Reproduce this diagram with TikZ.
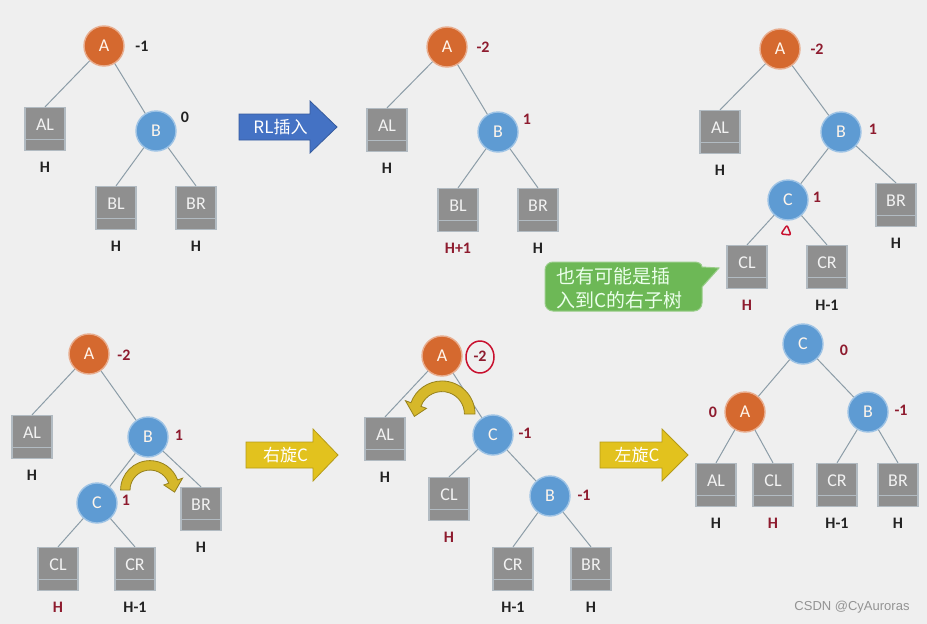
\documentclass[tikz,border=0pt]{standalone}
\usepackage{fontspec}
\setmainfont{Carlito}
\newfontfamily\cjk{Noto Sans CJK SC}
\newfontfamily\wmfont{Liberation Sans}

\definecolor{bgcol}{HTML}{EFEFEF}
\definecolor{nodeorange}{HTML}{D5692F}
\definecolor{nodeblue}{HTML}{5E9BD3}
\definecolor{leafgray}{HTML}{8F8F8F}
\definecolor{leafedge}{HTML}{B2BBC2}
\definecolor{branchgray}{HTML}{8C9DA8}
\definecolor{inkblack}{HTML}{222222}
\definecolor{inkred}{HTML}{8E1B2E}
\definecolor{arrowblue}{HTML}{4472C4}
\definecolor{arrowyellow}{HTML}{E2C21E}
\definecolor{turnyellow}{HTML}{D6B82A}
\definecolor{calloutgreen}{HTML}{6DB856}
\definecolor{penred}{HTML}{C8102E}

\tikzset{
  treecirc/.style={circle, minimum size=40pt, inner sep=0pt, line width=1.4pt,
    text=white!92!orange, font=\fontsize{18}{18}\selectfont},
  anode/.style={treecirc, fill=nodeorange, draw=nodeorange!55!white},
  bnode/.style={treecirc, fill=nodeblue, draw=nodeblue!60!white},
  leaf/.style={rectangle, minimum width=40pt, minimum height=43pt, inner sep=0pt,
    fill=leafgray, draw=leafedge, line width=1.2pt, text=white!90!gray,
    font=\fontsize{18}{18}\selectfont,
    path picture={\draw[leafedge, line width=1pt]
      ([yshift=11pt]path picture bounding box.south west) --
      ([yshift=11pt]path picture bounding box.south east);}},
  hlab/.style={font=\bfseries\fontsize{16}{16}\selectfont},
  factor/.style={font=\bfseries\fontsize{16}{16}\selectfont},
  branch/.style={draw=branchgray, line width=1pt},
  arrowtext/.style={text=white, font=\cjk\fontsize{17}{17}\selectfont},
  turnfill/.style={fill=turnyellow, draw=turnyellow!70!black, line width=0.8pt},
  penmark/.style={draw=penred, line width=1.5pt, line cap=round, line join=round},
}

% (name, x, y, letter, style)
\newcommand{\treenode}[5]{
    \node[#5] (#1) at (#2,#3) {#4};
}
% (name, x, y, text, height, height colour)
\newcommand{\leafbox}[6]{
    \node[leaf] (#1) at (#2,#3) {\raisebox{8pt}{#4}};
    \node[hlab, text=#6] (#1h) at (#2,#3+38) {#5};
}
% (name, x, y, value, colour)
\newcommand{\bfac}[5]{
    \node[factor, text=#5] (#1) at (#2,#3) {#4};
}
% (name, x_start, x_head, x_tip, y_mid, colour, text)
\newcommand{\fatarrow}[7]{
    \filldraw[fill=#6, draw=#6!80!black, line width=0.8pt]
      (#2,#5-13) -- (#3,#5-13) -- (#3,#5-26) -- (#4,#5)
      -- (#3,#5+26) -- (#3,#5+13) -- (#2,#5+13) -- cycle;
    \node[arrowtext] (#1) at ({(#2+#3)/2+6},#5) {#7};
}
% (x_centre, y_centre, xscale, yscale)
\newcommand{\turnarrow}[4]{
    \begin{scope}[shift={(#1,#2)}, xscale=#3, yscale=#4]
      \filldraw[turnfill] (180:28) arc (180:340:28) -- (340:33) -- (5:23.5)
        -- (340:14) -- (340:19) arc (340:180:19) -- cycle;
    \end{scope}
}

\begin{document}
\begin{tikzpicture}[x=1pt, y=-1pt]

  \useasboundingbox (0,0) rectangle (927,624);
  \fill[bgcol] (0,0) rectangle (927,624);

  % top left
  \treenode{a1}{104}{46}{A}{anode}
  \bfac{a1f}{142}{46}{-1}{inkblack}
  \leafbox{al1}{45}{129}{AL}{H}{inkblack}
  \treenode{b1}{156}{131}{B}{bnode}
  \bfac{b1f}{185}{117}{0}{inkblack}
  \leafbox{bl1}{116}{208}{BL}{H}{inkblack}
  \leafbox{br1}{196}{208}{BR}{H}{inkblack}
  \draw[branch] (a1) -- (al1.north);
  \draw[branch] (a1) -- (b1);
  \draw[branch] (b1) -- (bl1.north);
  \draw[branch] (b1) -- (br1.north);

  \fatarrow{rlins}{239}{310}{337}{127}{arrowblue}{RL插入}

  % top middle
  \treenode{a2}{447}{47}{A}{anode}
  \bfac{a2f}{483}{47}{-2}{inkred}
  \leafbox{al2}{387}{130}{AL}{H}{inkblack}
  \treenode{b2}{498}{132}{B}{bnode}
  \bfac{b2f}{527}{119}{1}{inkred}
  \leafbox{bl2}{458}{210}{BL}{H+1}{inkred}
  \leafbox{br2}{538}{210}{BR}{H}{inkblack}
  \draw[branch] (a2) -- (al2.north);
  \draw[branch] (a2) -- (b2);
  \draw[branch] (b2) -- (bl2.north);
  \draw[branch] (b2) -- (br2.north);

  % top right
  \treenode{a3}{780}{49}{A}{anode}
  \bfac{a3f}{817}{49}{-2}{inkred}
  \leafbox{al3}{720}{132}{AL}{H}{inkblack}
  \treenode{b3}{841}{132}{B}{bnode}
  \bfac{b3f}{873}{129}{1}{inkred}
  \treenode{c3}{788}{200}{C}{bnode}
  \bfac{c3f}{817}{197}{1}{inkred}
  \leafbox{br3}{896}{205}{BR}{H}{inkblack}
  \leafbox{cl3}{747}{267}{CL}{H}{inkred}
  \leafbox{cr3}{827}{267}{CR}{H-1}{inkblack}
  \draw[branch] (a3) -- (al3.north);
  \draw[branch] (a3) -- (b3);
  \draw[branch] (b3) -- (c3);
  \draw[branch] (b3) -- (br3.north);
  \draw[branch] (c3) -- (cl3.north);
  \draw[branch] (c3) -- (cr3.north);
  \draw[penmark, rounded corners=2pt] (787,225) -- (781,234) -- (791,235) -- cycle;

  \filldraw[fill=calloutgreen, draw=calloutgreen!70!white, line width=1pt]
    (553,262) -- (694,262) to[out=0,in=90] (702,267) -- (719,268) -- (702,287)
    -- (702,303) to[out=-90,in=0] (694,311) -- (553,311) to[out=180,in=-90] (545,303)
    -- (545,270) to[out=90,in=180] (553,262) -- cycle;
  \node[text=white!92!green, font=\cjk\fontsize{19}{24}\selectfont, align=left,
    anchor=west] (tip) at (553,288) {也有可能是插\\入到C的右子树};

  % bottom left
  \treenode{a4}{89}{354}{A}{anode}
  \bfac{a4f}{124}{355}{-2}{inkred}
  \leafbox{al4}{32}{437}{AL}{H}{inkblack}
  \treenode{b4}{148}{437}{B}{bnode}
  \bfac{b4f}{179}{435}{1}{inkred}
  \treenode{c4}{97}{503}{C}{bnode}
  \bfac{c4f}{126}{500}{1}{inkred}
  \leafbox{br4}{201}{509}{BR}{H}{inkblack}
  \leafbox{cl4}{58}{569}{CL}{H}{inkred}
  \leafbox{cr4}{135}{569}{CR}{H-1}{inkblack}
  \draw[branch] (a4) -- (al4.north);
  \draw[branch] (a4) -- (b4);
  \draw[branch] (b4) -- (c4);
  \draw[branch] (b4) -- (br4.north);
  \draw[branch] (c4) -- (cl4.north);
  \draw[branch] (c4) -- (cr4.north);
  \turnarrow{150}{490}{1.05}{1.05}

  \fatarrow{rotr}{246}{313}{338}{455}{arrowyellow}{右旋C}

  % bottom middle
  \treenode{a5}{442}{356}{A}{anode}
  \bfac{a5f}{480}{356}{-2}{inkred}
  \draw[penmark] (480,357) ellipse [x radius=14, y radius=16];
  \leafbox{al5}{385}{439}{AL}{H}{inkblack}
  \treenode{c5}{493}{435}{C}{bnode}
  \bfac{c5f}{525}{433}{-1}{inkred}
  \leafbox{cl5}{449}{499}{CL}{H}{inkred}
  \treenode{b5}{550}{496}{B}{bnode}
  \bfac{b5f}{584}{495}{-1}{inkred}
  \leafbox{cr5}{513}{569}{CR}{H-1}{inkblack}
  \leafbox{br5}{591}{569}{BR}{H}{inkblack}
  \draw[branch] (a5) -- (al5.north);
  \draw[branch] (a5) -- (c5);
  \draw[branch] (c5) -- (cl5.north);
  \draw[branch] (c5) -- (b5);
  \draw[branch] (b5) -- (cr5.north);
  \draw[branch] (b5) -- (br5.north);
  \turnarrow{442}{414}{-1.18}{1.18}

  \fatarrow{rotl}{600}{662}{688}{455}{arrowyellow}{左旋C}

  % bottom right
  \treenode{c6}{803}{344}{C}{bnode}
  \bfac{c6f}{844}{350}{0}{inkred}
  \treenode{a6}{745}{412}{A}{anode}
  \bfac{a6f}{713}{412}{0}{inkred}
  \treenode{b6}{868}{412}{B}{bnode}
  \bfac{b6f}{901}{410}{-1}{inkred}
  \leafbox{al6}{716}{485}{AL}{H}{inkblack}
  \leafbox{cl6}{773}{485}{CL}{H}{inkred}
  \leafbox{cr6}{837}{485}{CR}{H-1}{inkblack}
  \leafbox{br6}{898}{485}{BR}{H}{inkblack}
  \draw[branch] (c6) -- (a6);
  \draw[branch] (c6) -- (b6);
  \draw[branch] (a6) -- (al6.north);
  \draw[branch] (a6) -- (cl6.north);
  \draw[branch] (b6) -- (cr6.north);
  \draw[branch] (b6) -- (br6.north);

  \node[text=gray!85, font=\wmfont\fontsize{13}{13}\selectfont] (mark) at (852,607) {CSDN @CyAuroras};

\end{tikzpicture}
\end{document}
